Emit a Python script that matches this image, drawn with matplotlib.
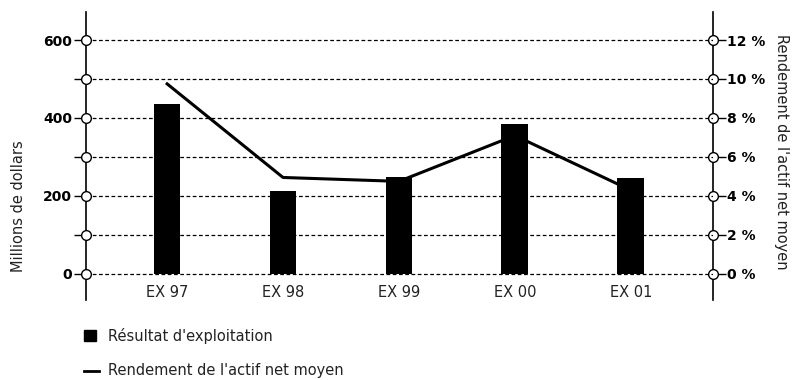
import matplotlib.pyplot as plt
import matplotlib.transforms as mtransforms
from matplotlib.lines import Line2D
from matplotlib.patches import Rectangle

plt.rcParams['font.family'] = ['DejaVu Sans']

# Data
years = ['EX 97', 'EX 98', 'EX 99', 'EX 00', 'EX 01']
operating_income = [436, 213, 249, 385, 246]      # millions de dollars
return_on_assets = [9.75, 4.95, 4.75, 7.1, 4.3]    # %

left_ticks = [0, 100, 200, 300, 400, 500, 600]
left_labels = ['0', '', '200', '', '400', '', '600']
right_ticks = [0, 2, 4, 6, 8, 10, 12]
right_labels = ['0 %', '2 %', '4 %', '6 %', '8 %', '10 %', '12 %']
legend_labels = ["Résultat d'exploitation", "Rendement de l'actif net moyen"]

W, H = 794, 380
fig = plt.figure(figsize=(W / 100, H / 100), dpi=100)
ax = fig.add_axes([86 / W, (H - 300) / H, (713 - 86) / W, (300 - 12) / H])
ax2 = ax.twinx()

ymin, ymax = -66.7, 671.8
ax.set_ylim(ymin, ymax)
ax2.set_ylim(ymin / 50, ymax / 50)
x = list(range(len(years)))
ax.set_xlim(-0.70, 4.71)

# dashed gridlines
for t in left_ticks:
    ax.axhline(t, color='black', lw=0.9, ls=(0, (3, 2)), zorder=1)

# line sits behind the bars
ax.set_zorder(2)
ax.patch.set_visible(False)
ax2.set_zorder(1)
ax2.plot(x, return_on_assets, color='black', lw=2.2)
ax.bar(x, operating_income, width=0.23, color='black', zorder=3)

for a in (ax, ax2):
    a.spines['top'].set_visible(False)
    a.spines['bottom'].set_visible(False)
    a.spines['left'].set_linewidth(1.2)
    a.spines['right'].set_linewidth(1.2)
ax2.spines['left'].set_visible(False)
ax.spines['right'].set_visible(False)

ax.set_yticks(left_ticks)
ax.set_yticklabels(left_labels, fontweight='bold', fontsize=10)
ax2.set_yticks(right_ticks)
ax2.set_yticklabels(right_labels, fontweight='bold', fontsize=10)
ax.tick_params(axis='y', length=9, width=1, pad=1)
ax2.tick_params(axis='y', length=9, width=1, pad=1)

# category labels sit just under the zero line
ax.set_xticks([])
for xi, lab in zip(x, years):
    ax.text(xi, -48, lab, ha='center', va='center', fontsize=10.5, color='#222222')

# open circle markers on both axes
trans_l = mtransforms.blended_transform_factory(ax.transAxes, ax.transData)
trans_r = mtransforms.blended_transform_factory(ax2.transAxes, ax2.transData)
ax.plot([0] * len(left_ticks), left_ticks, 'o', ms=7, mfc='white', mec='black',
        mew=1, transform=trans_l, clip_on=False, zorder=5)
ax2.plot([1] * len(right_ticks), right_ticks, 'o', ms=7, mfc='white', mec='black',
         mew=1, transform=trans_r, clip_on=False, zorder=5)

fig.text(19 / W, 1 - 206 / H, 'Millions de dollars', rotation=90,
         ha='center', va='center', fontsize=10.5, color='#222222')
fig.text(782 / W, 1 - 152 / H, "Rendement de l'actif net moyen", rotation=-90,
         ha='center', va='center', fontsize=10.5, color='#222222')

# legend below the chart
fig.patches.append(Rectangle((84 / W, 1 - 341 / H), 12 / W, 11 / H,
                             transform=fig.transFigure, color='black'))
fig.lines.append(Line2D([84 / W, 99 / W], [1 - 371 / H, 1 - 371 / H],
                        transform=fig.transFigure, color='black', lw=2))
fig.text(108 / W, 1 - 336 / H, legend_labels[0], ha='left', va='center',
         fontsize=10.5, color='#222222')
fig.text(108 / W, 1 - 371 / H, legend_labels[1], ha='left', va='center',
         fontsize=10.5, color='#222222')

fig.savefig('out.png', dpi=100)
